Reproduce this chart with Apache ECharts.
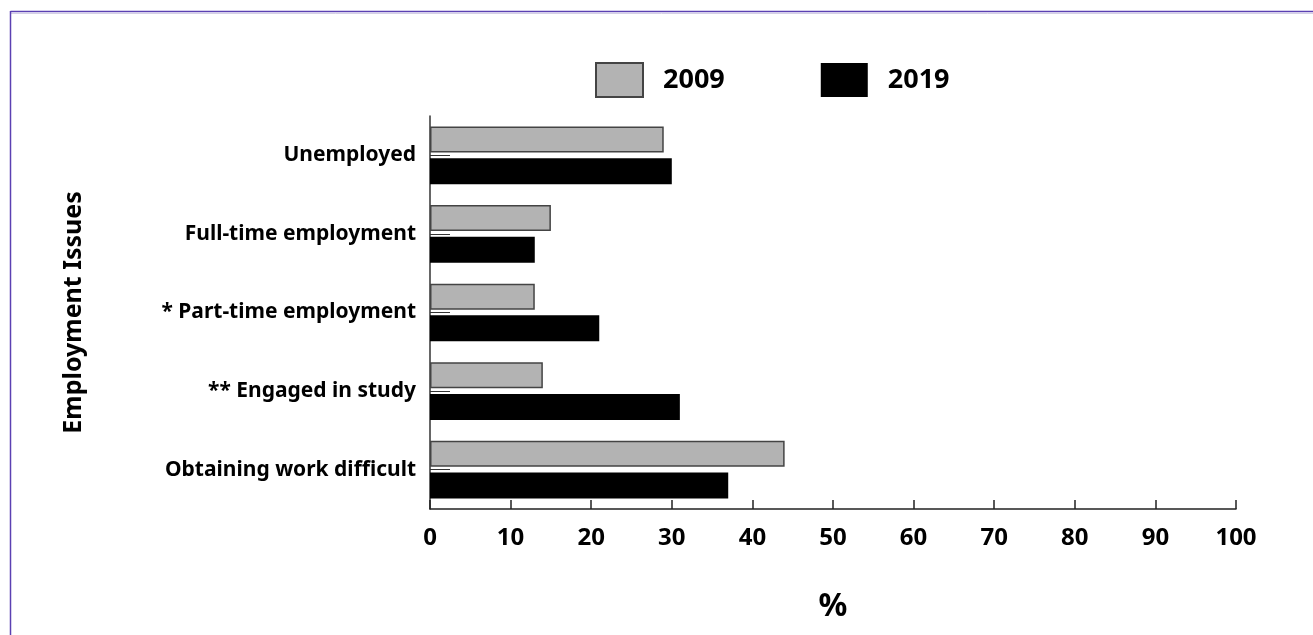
<!DOCTYPE html>
<html>
<head>
<meta charset="utf-8">
<script src="https://cdn.jsdelivr.net/npm/echarts@6/dist/echarts.min.js"></script>
<style>
  html, body { margin: 0; padding: 0; background: #fff; }
  #chart { width: 1313px; height: 635px; }
</style>
</head>
<body>
<div id="chart"></div>
<script>
// Employment issues, share of respondents (%) in 2009 and 2019
const categories = [
  'Unemployed',
  'Full-time employment',
  '* Part-time employment',
  '** Engaged in study',
  'Obtaining work difficult'
];
const values2009 = [29, 15, 13, 14, 44];
const values2019 = [30, 13, 21, 31, 37];
const xTicks = [0, 10, 20, 30, 40, 50, 60, 70, 80, 90, 100];

const FONT = '"Noto Sans", "Open Sans", sans-serif';

const chart = echarts.init(document.getElementById('chart'), null, { renderer: 'canvas' });

chart.setOption({
  backgroundColor: '#ffffff',
  animation: false,
  textStyle: { fontFamily: FONT, color: '#000' },
  graphic: [
    // frame edges along top and left
    { type: 'line', shape: { x1: 10.5, y1: 11.5, x2: 1313, y2: 11.5 }, style: { stroke: '#5b40b2', lineWidth: 1.5 } },
    { type: 'line', shape: { x1: 10, y1: 13.5, x2: 1313, y2: 13.5 }, style: { stroke: '#d4d0e6', lineWidth: 1 } },
    { type: 'line', shape: { x1: 10.5, y1: 11, x2: 10.5, y2: 635 }, style: { stroke: '#5b40b2', lineWidth: 1.5 } }
  ],
  legend: {
    left: 590,
    top: 57,
    itemWidth: 47,
    itemHeight: 34,
    itemGap: 96,
    icon: 'rect',
    textStyle: { fontFamily: FONT, fontSize: 27, fontWeight: 'bold', color: '#000', padding: [0, 0, 0, 15] },
    data: ['2009', '2019']
  },
  grid: {
    left: 430,
    top: 116,
    width: 806,
    height: 393,
    containLabel: false
  },
  xAxis: {
    type: 'value',
    min: 0,
    max: 100,
    interval: 10,
    name: '%',
    nameLocation: 'middle',
    nameGap: 82,
    nameTextStyle: { fontFamily: FONT, fontSize: 32, fontWeight: 'bold', color: '#000' },
    axisLine: { show: true, lineStyle: { color: '#222', width: 1.5 } },
    axisTick: { show: true, inside: true, length: 9, lineStyle: { color: '#222', width: 1.5 } },
    axisLabel: {
      margin: 17,
      fontFamily: FONT, fontSize: 24, fontWeight: 'bold', color: '#000',
      formatter: v => (xTicks.includes(v) ? String(v) : '')
    },
    splitLine: { show: false }
  },
  yAxis: {
    type: 'category',
    data: categories,
    inverse: true,
    name: 'Employment Issues',
    nameLocation: 'middle',
    nameRotate: 90,
    nameGap: 344,
    nameTextStyle: { fontFamily: FONT, fontSize: 25, fontWeight: 'bold', color: '#000' },
    axisLine: { show: true, lineStyle: { color: '#333', width: 1.5 } },
    axisTick: { show: true, inside: true, alignWithLabel: true, length: 20, lineStyle: { color: '#333', width: 1 } },
    axisLabel: { margin: 14, fontFamily: FONT, fontSize: 21, fontWeight: 'bold', color: '#000' }
  },
  series: [
    {
      name: '2009',
      type: 'bar',
      data: values2009,
      barWidth: 26,
      barGap: '22%',
      itemStyle: { color: '#b3b3b3', borderColor: '#444', borderWidth: 1.5 }
    },
    {
      name: '2019',
      type: 'bar',
      data: values2019,
      barWidth: 26,
      barGap: '22%',
      itemStyle: { color: '#000000' }
    }
  ]
});
</script>
</body>
</html>
